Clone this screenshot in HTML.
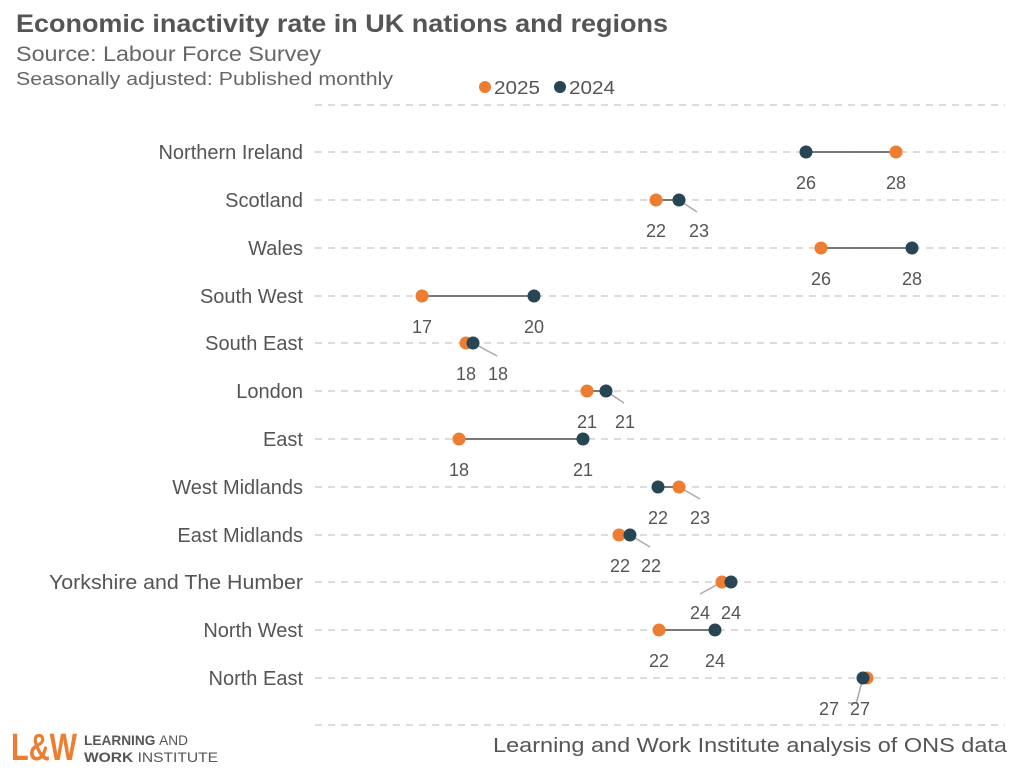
<!DOCTYPE html>
<html><head><meta charset="utf-8"><style>
body{margin:0;background:#fff}
svg{display:block;font-family:"Liberation Sans",sans-serif}
</style></head><body>
<svg width="1024" height="773" viewBox="0 0 1024 773">
<text x="16" y="32" font-size="25" font-weight="bold" fill="#555" textLength="652" lengthAdjust="spacingAndGlyphs">Economic inactivity rate in UK nations and regions</text>
<text x="16" y="61" font-size="21" fill="#666" textLength="305" lengthAdjust="spacingAndGlyphs">Source: Labour Force Survey</text>
<text x="16" y="85" font-size="18" fill="#666" textLength="377" lengthAdjust="spacingAndGlyphs">Seasonally adjusted: Published monthly</text>
<circle cx="485" cy="87" r="6" fill="#ed7d31"/><text x="494" y="94" font-size="18" fill="#555" textLength="46" lengthAdjust="spacingAndGlyphs">2025</text>
<circle cx="560" cy="87" r="6" fill="#264653"/><text x="569" y="94" font-size="18" fill="#555" textLength="46" lengthAdjust="spacingAndGlyphs">2024</text>
<g stroke="#c8c8c8" stroke-width="1.3" stroke-dasharray="7,6">
<line x1="315" y1="105" x2="1005" y2="105"/>
<line x1="315" y1="152" x2="1005" y2="152"/><line x1="315" y1="200" x2="1005" y2="200"/>
<line x1="315" y1="248" x2="1005" y2="248"/><line x1="315" y1="296" x2="1005" y2="296"/>
<line x1="315" y1="343" x2="1005" y2="343"/><line x1="315" y1="391" x2="1005" y2="391"/>
<line x1="315" y1="439" x2="1005" y2="439"/><line x1="315" y1="487" x2="1005" y2="487"/>
<line x1="315" y1="535" x2="1005" y2="535"/><line x1="315" y1="582" x2="1005" y2="582"/>
<line x1="315" y1="630" x2="1005" y2="630"/><line x1="315" y1="678" x2="1005" y2="678"/>
<line x1="315" y1="725" x2="1005" y2="725"/>
</g>
<g font-size="20" fill="#555" text-anchor="end">
<text x="303" y="159">Northern Ireland</text><text x="303" y="207">Scotland</text>
<text x="303" y="255">Wales</text><text x="303" y="303">South West</text>
<text x="303" y="350">South East</text><text x="303" y="398">London</text>
<text x="303" y="446">East</text><text x="303" y="494">West Midlands</text>
<text x="303" y="542">East Midlands</text><text x="303" y="589" textLength="254" lengthAdjust="spacingAndGlyphs">Yorkshire and The Humber</text>
<text x="303" y="637">North West</text><text x="303" y="685">North East</text>
</g>
<g stroke="#666" stroke-width="1.8">
<line x1="806" y1="152" x2="896" y2="152"/><line x1="656" y1="200" x2="679" y2="200"/>
<line x1="821" y1="248" x2="912" y2="248"/><line x1="422" y1="296" x2="534" y2="296"/>
<line x1="587" y1="391" x2="606" y2="391"/><line x1="459" y1="439" x2="583" y2="439"/>
<line x1="658" y1="487" x2="679" y2="487"/><line x1="619" y1="535" x2="630" y2="535"/>
<line x1="659" y1="630" x2="715" y2="630"/>
</g>
<g stroke="#aaa" stroke-width="1.5">
<line x1="679" y1="200" x2="697" y2="212"/><line x1="473" y1="343" x2="497" y2="356"/>
<line x1="606" y1="391" x2="624" y2="403"/><line x1="679" y1="487" x2="700" y2="499"/>
<line x1="630" y1="535" x2="650" y2="547"/><line x1="722" y1="582" x2="700" y2="594"/>
<line x1="863" y1="678" x2="856" y2="704"/><line x1="848" y1="703" x2="857" y2="703"/>
</g>
<g fill="#ed7d31">
<circle cx="896" cy="152" r="6.5"/><circle cx="656" cy="200" r="6.5"/><circle cx="821" cy="248" r="6.5"/>
<circle cx="422" cy="296" r="6.5"/><circle cx="466" cy="343" r="6.5"/><circle cx="587" cy="391" r="6.5"/>
<circle cx="459" cy="439" r="6.5"/><circle cx="679" cy="487" r="6.5"/><circle cx="619" cy="535" r="6.5"/>
<circle cx="722" cy="582" r="6.5"/><circle cx="659" cy="630" r="6.5"/><circle cx="867" cy="678" r="6.5"/>
</g>
<g fill="#264653">
<circle cx="806" cy="152" r="6.5"/><circle cx="679" cy="200" r="6.5"/><circle cx="912" cy="248" r="6.5"/>
<circle cx="534" cy="296" r="6.5"/><circle cx="473" cy="343" r="6.5"/><circle cx="606" cy="391" r="6.5"/>
<circle cx="583" cy="439" r="6.5"/><circle cx="658" cy="487" r="6.5"/><circle cx="630" cy="535" r="6.5"/>
<circle cx="731" cy="582" r="6.5"/><circle cx="715" cy="630" r="6.5"/><circle cx="863" cy="678" r="6.5"/>
</g>
<g font-size="18" fill="#555" text-anchor="middle">
<text x="806" y="189">26</text><text x="896" y="189">28</text>
<text x="656" y="237">22</text><text x="699" y="237">23</text>
<text x="821" y="285">26</text><text x="912" y="285">28</text>
<text x="422" y="333">17</text><text x="534" y="333">20</text>
<text x="466" y="380">18</text><text x="498" y="380">18</text>
<text x="587" y="428">21</text><text x="625" y="428">21</text>
<text x="459" y="476">18</text><text x="583" y="476">21</text>
<text x="658" y="524">22</text><text x="700" y="524">23</text>
<text x="620" y="572">22</text><text x="651" y="572">22</text>
<text x="700" y="619">24</text><text x="731" y="619">24</text>
<text x="659" y="667">22</text><text x="715" y="667">24</text>
<text x="829" y="715">27</text><text x="860" y="715">27</text>
</g>
<text x="1007" y="752" font-size="20" fill="#555" text-anchor="end" textLength="514" lengthAdjust="spacingAndGlyphs">Learning and Work Institute analysis of ONS data</text>
<text x="11" y="760" font-size="38" font-weight="bold" fill="#ed7d31" textLength="66" lengthAdjust="spacingAndGlyphs">L&amp;W</text>
<text x="84" y="745" font-size="14" font-weight="bold" fill="#555" textLength="104" lengthAdjust="spacingAndGlyphs">LEARNING <tspan font-weight="normal">AND</tspan></text>
<text x="84" y="762" font-size="14" font-weight="bold" fill="#555" textLength="134" lengthAdjust="spacingAndGlyphs">WORK <tspan font-weight="normal">INSTITUTE</tspan></text>
</svg>
</body></html>
